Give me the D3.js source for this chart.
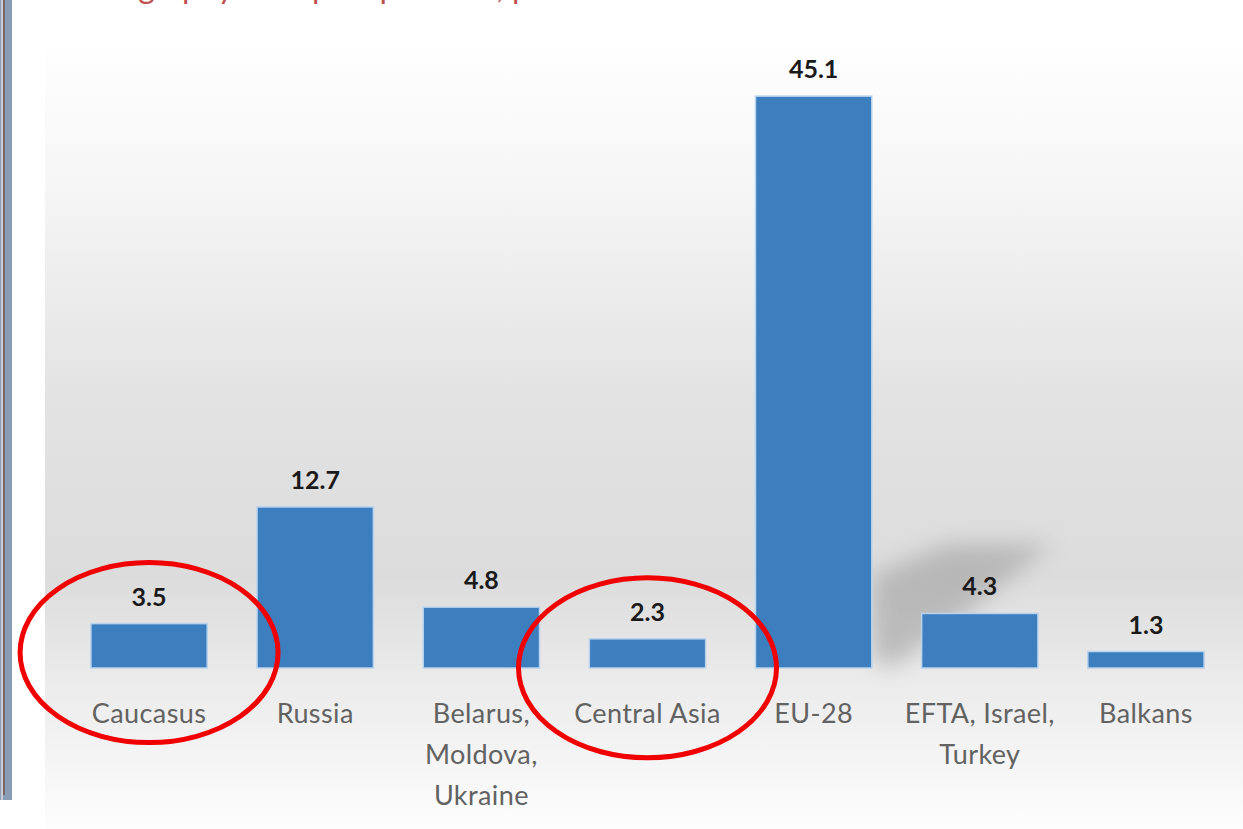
<!DOCTYPE html>
<meta charset="utf-8">
<script src="https://d3js.org/d3.v7.min.js"></script>
<style>
  body { margin: 0; background: #fff; }
  svg { display: block; }
</style>
<div id="chart"></div>
<script>
// data
var categories = ["Caucasus", "Russia", "Belarus, Moldova, Ukraine", "Central Asia", "EU-28", "EFTA, Israel, Turkey", "Balkans"];
var labelLines = [["Caucasus"], ["Russia"], ["Belarus,", "Moldova,", "Ukraine"], ["Central Asia"], ["EU-28"], ["EFTA, Israel,", "Turkey"], ["Balkans"]];
var values = [3.5, 12.7, 4.8, 2.3, 45.1, 4.3, 1.3];
var circled = ["Caucasus", "Central Asia"];
var titleText = "Geography of import partners, per cent of total";

var W = 1243, H = 829;
var baseY = 668;

var svg = d3.select("#chart").append("svg")
    .attr("width", W)
    .attr("height", H);

var defs = svg.append("defs");

// grey backdrop gradient
var grad = defs.append("linearGradient")
    .attr("id", "bg")
    .attr("x1", 0).attr("y1", 0).attr("x2", 0).attr("y2", 1);
grad.append("stop").attr("offset", "0%").attr("stop-color", "#ffffff");
grad.append("stop").attr("offset", "18%").attr("stop-color", "#f6f6f6");
grad.append("stop").attr("offset", "45%").attr("stop-color", "#e3e3e3");
grad.append("stop").attr("offset", "68%").attr("stop-color", "#dcdcdc");
grad.append("stop").attr("offset", "82%").attr("stop-color", "#ececec");
grad.append("stop").attr("offset", "100%").attr("stop-color", "#fdfdfd");

var blur = defs.append("filter").attr("id", "blur")
    .attr("x", "-50%").attr("y", "-50%").attr("width", "200%").attr("height", "200%");
blur.append("feGaussianBlur").attr("stdDeviation", 11);

// window frame strip on the left
svg.append("rect").attr("x", 0).attr("y", 0).attr("width", 12).attr("height", 800)
    .attr("fill", "#8b9cb6");
svg.append("rect").attr("x", 1).attr("y", 0).attr("width", 2).attr("height", 800)
    .attr("fill", "#c9ced6");
svg.append("rect").attr("x", 3).attr("y", 0).attr("width", 2).attr("height", 795)
    .attr("fill", "#7a6868");

// red title, almost entirely cut off at the top
svg.append("text")
    .attr("x", 80)
    .attr("y", -2)
    .attr("fill", "#c0504d")
    .style("font-family", "Lato, 'Open Sans', sans-serif")
    .style("font-size", "32px")
    .text(titleText);

// backdrop
svg.append("rect")
    .attr("x", 45).attr("y", 40)
    .attr("width", W - 45).attr("height", H - 40)
    .attr("fill", "url(#bg)");

var x = d3.scaleBand()
    .domain(categories)
    .range([66, 1229])
    .paddingInner(0.3)
    .paddingOuter(0.15);

var y = d3.scaleLinear()
    .domain([0, 50])
    .range([baseY, baseY - 50 * 12.68]);

var data = categories.map(function(c, i) {
  return { cat: c, value: values[i], lines: labelLines[i] };
});

// soft shadow cast by the tall bar
var eu = data[4];
var ex = x(eu.cat) + x.bandwidth();
svg.append("path")
    .attr("d", "M" + ex + "," + (baseY - 10) +
               "L" + ex + "," + (y(eu.value) + 480) +
               "L" + (ex + 75) + "," + (y(eu.value) + 448) +
               "L" + (ex + 180) + "," + (y(eu.value) + 448) +
               "L" + (ex + 90) + "," + (y(eu.value) + 520) +
               "L" + (ex + 20) + "," + baseY + "Z")
    .attr("fill", "#a0a0a0")
    .attr("opacity", 0.6)
    .attr("filter", "url(#blur)");

// bars
svg.append("g")
  .selectAll("rect")
  .data(data)
  .enter()
  .append("rect")
    .attr("x", function(d) { return x(d.cat); })
    .attr("y", function(d) { return y(d.value); })
    .attr("width", x.bandwidth())
    .attr("height", function(d) { return y(0) - y(d.value); })
    .attr("fill", "#3d7ebf")
    .attr("stroke", "#b9d3ee")
    .attr("stroke-width", 1.5);

// value labels
svg.append("g")
  .selectAll("text")
  .data(data)
  .enter()
  .append("text")
    .attr("x", function(d) { return x(d.cat) + x.bandwidth() / 2; })
    .attr("y", function(d) { return y(d.value) - 18; })
    .attr("text-anchor", "middle")
    .attr("fill", "#1a1a1a")
    .style("font-family", "Lato, 'Open Sans', sans-serif")
    .style("font-weight", "bold")
    .style("font-size", "25px")
    .text(function(d) { return d.value.toFixed(1); });

// category labels
var cl = svg.append("g")
  .selectAll("text")
  .data(data)
  .enter()
  .append("text")
    .attr("text-anchor", "middle")
    .attr("fill", "#626262")
    .style("font-family", "Lato, 'Open Sans', sans-serif")
    .style("font-size", "27px")
    .style("letter-spacing", "0.4px");

cl.selectAll("tspan")
  .data(function(d) { return d.lines.map(function(l) { return { t: l, cx: x(d.cat) + x.bandwidth() / 2 }; }); })
  .enter()
  .append("tspan")
    .attr("x", function(d) { return d.cx; })
    .attr("y", function(d, i) { return baseY + 55 + i * 41; })
    .text(function(d) { return d.t; });

// red hand-drawn circles
svg.append("g")
  .selectAll("ellipse")
  .data(data.filter(function(d) { return circled.indexOf(d.cat) >= 0; }))
  .enter()
  .append("ellipse")
    .attr("cx", function(d) { return x(d.cat) + x.bandwidth() / 2; })
    .attr("cy", function(d) { return y(d.value) + 29; })
    .attr("rx", 129)
    .attr("ry", 90)
    .attr("fill", "none")
    .attr("stroke", "#f00000")
    .attr("stroke-width", 5);
</script>
